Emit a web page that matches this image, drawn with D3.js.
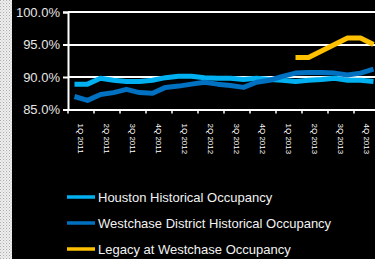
<!DOCTYPE html>
<html>
<head>
<meta charset="utf-8">
<script src="https://cdn.jsdelivr.net/npm/d3@7"></script>
<style>
  html, body { margin: 0; padding: 0; background: #000; overflow: hidden; }
  #chart { width: 375px; height: 259px; }
  text { font-family: "Liberation Sans", Arial, sans-serif; }
</style>
</head>
<body>
<div id="chart"></div>
<script>
// Category labels along the x axis (one per band, two points per band)
const periods = ["1Q 2011", "2Q 2011", "3Q 2011", "4Q 2011", "1Q 2012", "2Q 2012",
                 "3Q 2012", "4Q 2012", "1Q 2013", "2Q 2013", "3Q 2013", "4Q 2013"];

// Occupancy values (%)
const houston = [88.9, 88.9, 89.8, 89.5, 89.3, 89.3, 89.5, 89.9, 90.1, 90.1, 89.9, 89.8,
                 89.8, 89.6, 89.8, 89.6, 89.5, 89.3, 89.5, 89.6, 89.8, 89.5, 89.5, 89.3];
const westchase = [87.0, 86.4, 87.3, 87.6, 88.1, 87.6, 87.5, 88.4, 88.6, 88.9, 89.2, 88.9,
                   88.7, 88.4, 89.2, 89.5, 90.1, 90.6, 90.7, 90.7, 90.6, 90.3, 90.6, 91.2];
const legacy = [null, null, null, null, null, null, null, null, null, null, null, null,
                null, null, null, null, null, 93.0, 93.0, 94.0, 95.0, 96.0, 96.0, 95.0];

const yTicks = [85, 90, 95, 100];

const series = [
  { name: "Houston Historical Occupancy", values: houston, color: "#00B0F0" },
  { name: "Westchase District Historical Occupancy", values: westchase, color: "#0070C0" },
  { name: "Legacy at Westchase Occupancy", values: legacy, color: "#FFC000" }
];

const width = 375, height = 259;
const margin = { left: 68, top: 12 };
const plotRight = 380, plotBottom = 109.5;

const svg = d3.select("#chart").append("svg")
  .attr("width", width)
  .attr("height", height);

// left patterned strip
const defs = svg.append("defs");
const pat = defs.append("pattern")
  .attr("id", "dots")
  .attr("width", 3).attr("height", 3)
  .attr("patternUnits", "userSpaceOnUse");
pat.append("rect").attr("width", 3).attr("height", 3).attr("fill", "#eeeeee");
pat.append("rect").attr("width", 1).attr("height", 1).attr("fill", "#aaaaaa");
pat.append("rect").attr("x", 1.5).attr("y", 1.5).attr("width", 1).attr("height", 1).attr("fill", "#c4c4c4");

svg.append("rect").attr("width", width).attr("height", height).attr("fill", "#000");
svg.append("rect").attr("width", 12).attr("height", height).attr("fill", "url(#dots)");

const x = d3.scaleBand()
  .domain(periods)
  .range([margin.left, plotRight]);

const xp = d3.scalePoint()
  .domain(d3.range(houston.length))
  .range([margin.left, plotRight])
  .padding(0.5);

const y = d3.scaleLinear()
  .domain([85, 100])
  .range([plotBottom, margin.top]);

// gridlines
svg.append("g")
  .selectAll("line")
  .data(yTicks.filter(d => d > 85))
  .join("line")
  .attr("x1", margin.left)
  .attr("x2", plotRight)
  .attr("y1", d => Math.round(y(d)))
  .attr("y2", d => Math.round(y(d)))
  .attr("stroke", "#fff")
  .attr("stroke-width", 2);

// y axis
const yAxis = svg.append("g")
  .attr("transform", `translate(${margin.left},0)`)
  .call(d3.axisLeft(y).tickValues(yTicks).tickFormat(d => d.toFixed(1) + "%").tickSize(5).tickPadding(3));
yAxis.select(".domain").attr("stroke", "#fff").attr("stroke-width", 2);
yAxis.selectAll(".tick line").attr("stroke", "#fff").attr("stroke-width", 2);
yAxis.selectAll("text").attr("fill", "#e6e6e6").attr("font-size", 13);

// x axis
const xAxis = svg.append("g")
  .attr("transform", `translate(0,${plotBottom})`)
  .call(d3.axisBottom(x).tickSize(0).tickPadding(0));
xAxis.select(".domain").attr("stroke", "#fff").attr("stroke-width", 2);
xAxis.selectAll(".tick text")
  .attr("fill", "#fff")
  .attr("font-size", 8)
  .attr("text-anchor", "start")
  .attr("dy", "0.32em")
  .attr("transform", "translate(0,14) rotate(90)");

// x tick marks at band edges
svg.append("g")
  .selectAll("line")
  .data(periods)
  .join("line")
  .attr("x1", d => x(d))
  .attr("x2", d => x(d))
  .attr("y1", plotBottom)
  .attr("y2", plotBottom + 4)
  .attr("stroke", "#fff")
  .attr("stroke-width", 1.5);

// lines
const line = d3.line()
  .defined(d => d != null)
  .x((d, i) => xp(i))
  .y(d => y(d));

svg.append("g")
  .selectAll("path")
  .data(series)
  .join("path")
  .attr("fill", "none")
  .attr("stroke", d => d.color)
  .attr("stroke-width", 5)
  .attr("stroke-linejoin", "round")
  .attr("d", d => line(d.values));

// legend
const legend = svg.append("g")
  .selectAll("g")
  .data(series)
  .join("g")
  .attr("transform", (d, i) => `translate(67,${197 + i * 26})`);

legend.append("line")
  .attr("x1", 0).attr("x2", 28)
  .attr("stroke", d => d.color)
  .attr("stroke-width", 3.5);

legend.append("text")
  .attr("x", 31)
  .attr("dy", "0.35em")
  .attr("fill", "#f2f2f2")
  .attr("font-size", 13)
  .text(d => d.name);
</script>
</body>
</html>
